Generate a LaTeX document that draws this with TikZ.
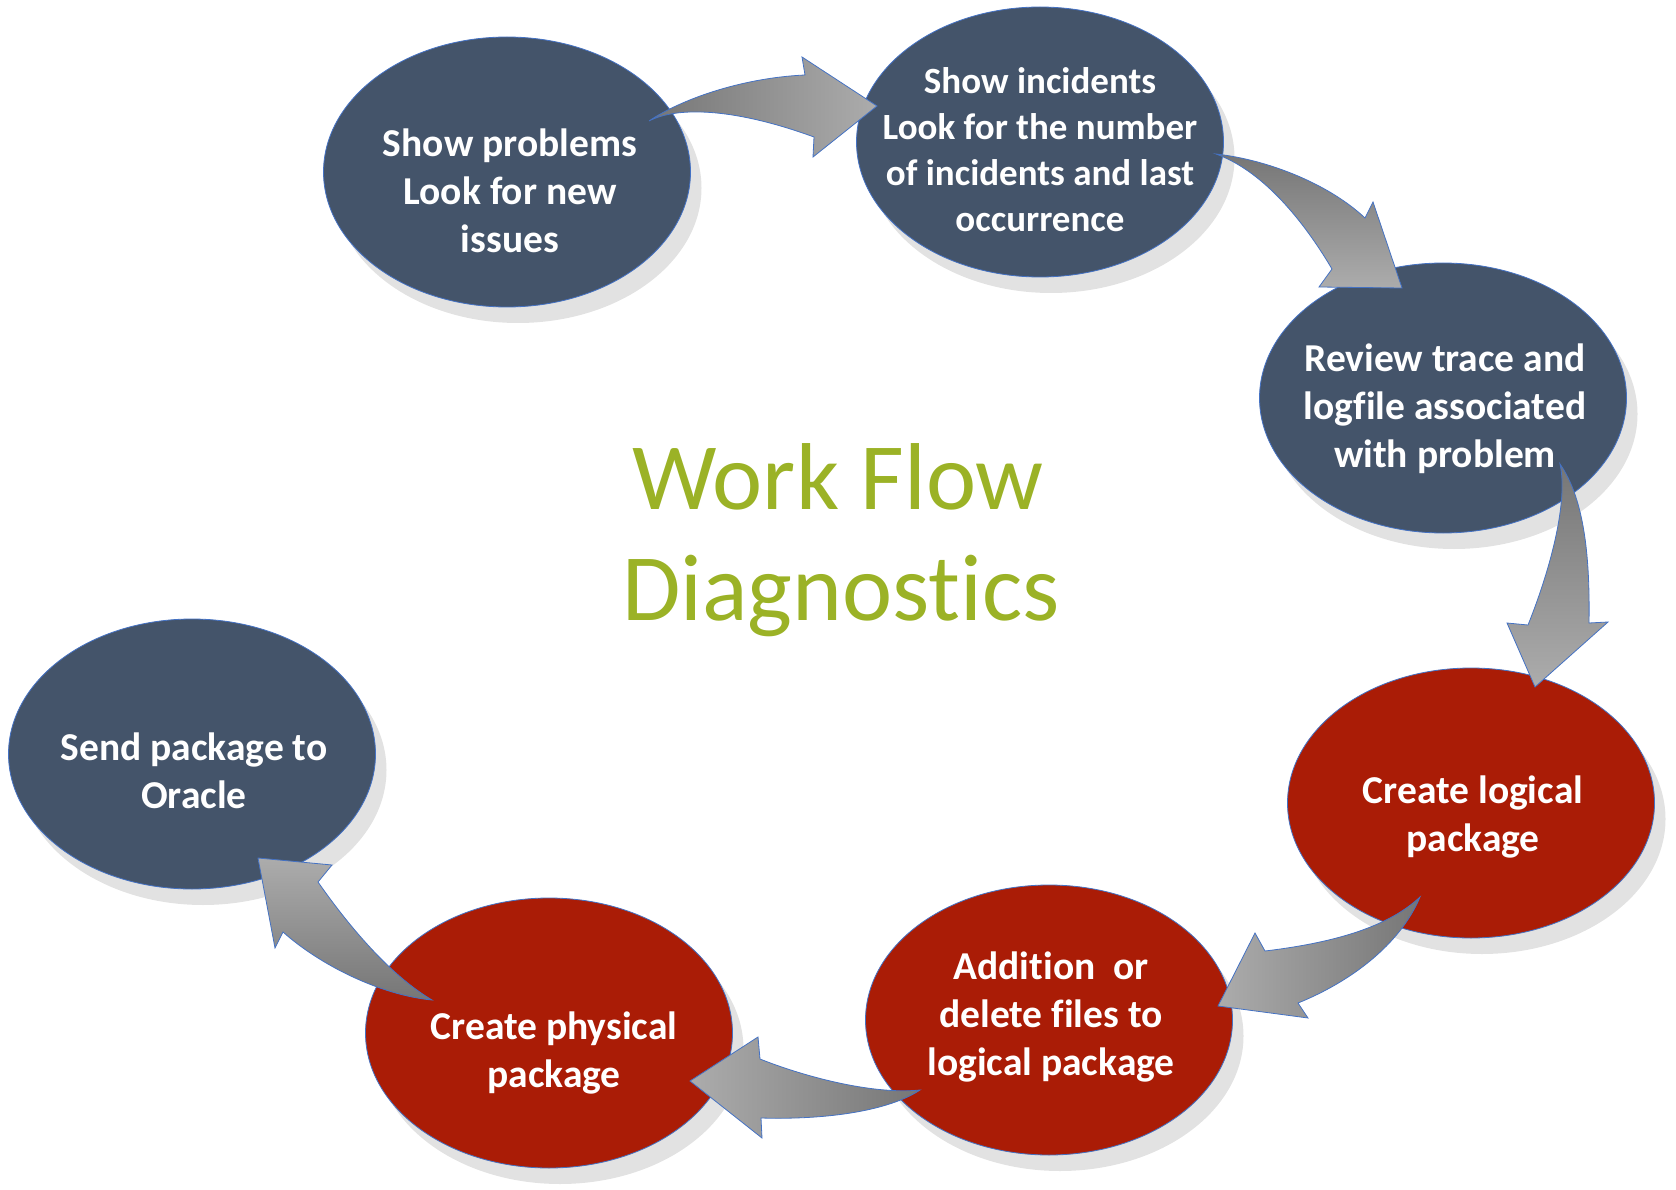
\documentclass[tikz,border=0pt]{standalone}
\usepackage{fontspec}
\setmainfont{Carlito}[Ligatures={NoCommon,NoContextual,NoRare}]
\usetikzlibrary{shapes.geometric,shadows}
\definecolor{bubblue}{RGB}{68,84,106}
\definecolor{bubred}{RGB}{170,28,6}
\definecolor{edgeblue}{RGB}{68,114,196}
\definecolor{shadowgray}{RGB}{226,226,226}
\definecolor{arrowdark}{RGB}{118,118,118}
\definecolor{arrowlight}{RGB}{172,172,172}
\definecolor{titlegreen}{RGB}{155,178,38}
\begin{document}
\begin{tikzpicture}[x=1pt,y=-1pt,
  bub/.style={ellipse, minimum width=367pt, minimum height=270pt, inner sep=0pt,
    draw=edgeblue, line width=0.8pt,
    drop shadow={shadow xshift=11pt, shadow yshift=-16pt, fill=shadowgray, opacity=1}},
  bluebub/.style={bub, fill=bubblue},
  redbub/.style={bub, fill=bubred},
  bubtext/.style={text=white, align=center, inner sep=0pt,
    font=\bfseries\fontsize{39.5}{48}\selectfont},
  titletext/.style={text=titlegreen, inner sep=0pt, anchor=base,
    font=\fontsize{95}{110}\selectfont},
  blockarrow/.style={draw=edgeblue, line width=0.8pt, line join=miter}
]
\useasboundingbox (0,0) rectangle (1676,1190);

% ellipses
\node[bluebub] (e1) at (507,172) {};
\node[bluebub] (e2) at (1040,142) {};
\node[bluebub] (e3) at (1443,398) {};
\node[redbub]  (e4) at (1471,803) {};
\node[redbub]  (e5) at (1049,1020) {};
\node[redbub]  (e6) at (549,1033) {};
\node[bluebub] (e7) at (192,754) {};

% title
\node[titletext] (wf) at (838,509) {Work Flow};
\node[titletext] (dg) at (841,620) {Diagnostics};

% arrow end points
\coordinate (a1tail) at (649,121);  \coordinate (a1tip) at (877,106);
\coordinate (a2tail) at (1216,154); \coordinate (a2tip) at (1402,288);
\coordinate (a3tail) at (1560,464); \coordinate (a3tip) at (1535,687);
\coordinate (a4tail) at (1420,897); \coordinate (a4tip) at (1218,1006);
\coordinate (a5tail) at (920,1090); \coordinate (a5tip) at (690,1081);
\coordinate (a6tail) at (432,1000); \coordinate (a6tip) at (258,858);

% arrow 1: e1 -> e2
\draw[blockarrow, left color=arrowdark, right color=arrowlight]
  (a1tail) .. controls (680,100) and (740,78) .. (805,75)
  -- (802,57) -- (a1tip) -- (813,157) -- (814,137)
  .. controls (740,110) and (680,105) .. (a1tail) -- cycle;

% arrow 2: e2 -> e3
\draw[blockarrow, top color=arrowdark, bottom color=arrowlight]
  (a2tail) .. controls (1270,160) and (1330,185) .. (1365,218)
  -- (1373,202) -- (a2tip) -- (1319,287) -- (1332,269)
  .. controls (1300,215) and (1260,170) .. (a2tail) -- cycle;

% arrow 3: e3 -> e4
\draw[blockarrow, top color=arrowdark, bottom color=arrowlight]
  (a3tail) .. controls (1585,500) and (1590,560) .. (1589,623)
  -- (1608,622) -- (a3tip) -- (1507,623) -- (1528,625)
  .. controls (1552,565) and (1568,500) .. (a3tail) -- cycle;

% arrow 4: e4 -> e5
\draw[blockarrow, right color=arrowdark, left color=arrowlight]
  (a4tail) .. controls (1390,925) and (1340,942) .. (1265,951)
  -- (1255,933) -- (a4tip) -- (1308,1018) -- (1298,1003)
  .. controls (1350,982) and (1400,945) .. (a4tail) -- cycle;

% arrow 5: e5 -> e6
\draw[blockarrow, right color=arrowdark, left color=arrowlight]
  (a5tail) .. controls (870,1095) and (800,1075) .. (760,1059)
  -- (758,1037) -- (a5tip) -- (762,1138) -- (761,1118)
  .. controls (830,1120) and (890,1110) .. (a5tail) -- cycle;

% arrow 6: e6 -> e7
\draw[blockarrow, bottom color=arrowdark, top color=arrowlight]
  (a6tail) .. controls (395,978) and (355,935) .. (318,882)
  -- (332,865) -- (a6tip) -- (275,948) -- (283,932)
  .. controls (320,965) and (380,995) .. (a6tail) -- cycle;

% texts
\node[bubtext] (t1) at (510,191) {Show problems\\Look for new\\issues};
\node[bubtext, font=\bfseries\fontsize{37}{46}\selectfont] (t2) at (1040,150) {Show incidents\\Look for the number\\of incidents and last\\occurrence};
\node[bubtext] (t3) at (1445,409) {Review trace and\\logfile associated\\with problem};
\node[bubtext] (t4) at (1473,817) {Create logical\\package};
\node[bubtext] (t5) at (1051,1017) {Addition\ \ or\\delete files to\\logical package};
\node[bubtext] (t6) at (554,1053) {Create physical\\package};
\node[bubtext] (t7) at (194,771) {Send package to\\Oracle};
\end{tikzpicture}
\end{document}
